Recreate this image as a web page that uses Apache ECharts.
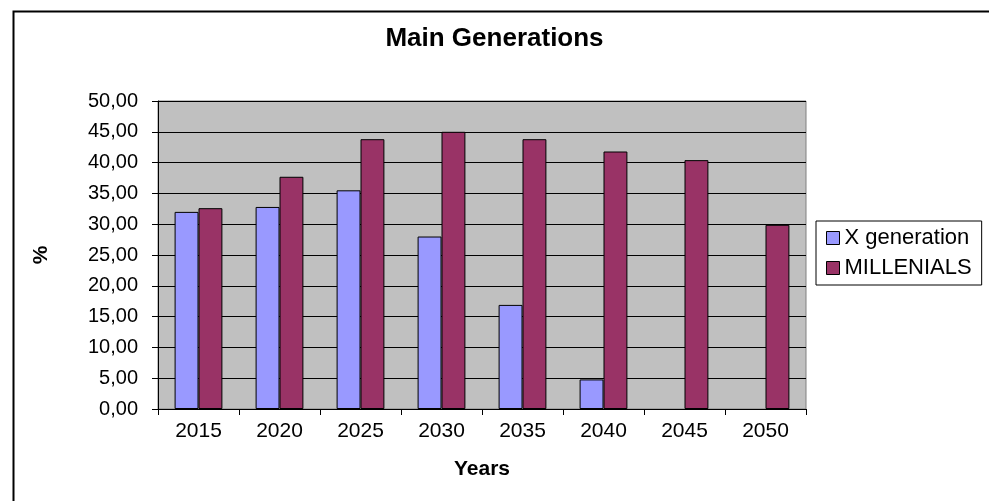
<!DOCTYPE html>
<html>
<head>
<meta charset="utf-8">
<script src="https://cdn.jsdelivr.net/npm/echarts@6/dist/echarts.min.js"></script>
<style>
  html, body { margin: 0; padding: 0; background: #fff; }
  #chart { width: 989px; height: 501px; }
</style>
</head>
<body>
<div id="chart"></div>
<script>
var years = ['2015', '2020', '2025', '2030', '2035', '2040', '2045', '2050'];
var xGeneration = [32.0, 32.8, 35.5, 28.0, 16.9, 4.8, null, null];
var millenials = [32.6, 37.7, 43.8, 45.0, 43.8, 41.8, 40.4, 29.9];

var font = 'Liberation Sans, Arial, sans-serif';

var chart = echarts.init(document.getElementById('chart'));

var option = {
    backgroundColor: '#fff',
    animation: false,
    title: {
        text: 'Main Generations',
        left: 'center',
        top: 21,
        textStyle: { fontFamily: font, fontSize: 26, fontWeight: 'bold', color: '#000' }
    },
    legend: {
        orient: 'vertical',
        left: 816,
        top: 221,
        padding: [6, 10, 6, 10],
        itemGap: 8,
        itemWidth: 13,
        itemHeight: 13,
        icon: 'rect',
        borderColor: '#000',
        borderWidth: 1,
        textStyle: { fontFamily: font, fontSize: 22, color: '#000' },
        itemStyle: { borderColor: '#000', borderWidth: 1 },
        data: ['X generation', 'MILLENIALS']
    },
    grid: {
        left: 158,
        right: 183,
        top: 101,
        bottom: 92,
        show: true,
        backgroundColor: '#c0c0c0',
        borderColor: '#808080',
        borderWidth: 1
    },
    xAxis: {
        type: 'category',
        data: years,
        name: 'Years',
        nameLocation: 'middle',
        nameGap: 50,
        nameTextStyle: { fontFamily: font, fontSize: 21, fontWeight: 'bold', color: '#000' },
        axisLine: { lineStyle: { color: '#000', width: 1 } },
        axisTick: { show: true, length: 6, lineStyle: { color: '#000' } },
        axisLabel: { fontFamily: font, fontSize: 21, color: '#000', margin: 12 }
    },
    yAxis: {
        type: 'value',
        min: 0,
        max: 50,
        interval: 5,
        name: '%',
        nameLocation: 'middle',
        nameGap: 106,
        nameRotate: 90,
        nameTextStyle: { fontFamily: font, fontSize: 21, fontWeight: 'bold', color: '#000' },
        axisLine: { show: true, lineStyle: { color: '#000', width: 1 } },
        axisTick: { show: true, length: 6, lineStyle: { color: '#000' } },
        axisLabel: {
            fontFamily: font, fontSize: 20, color: '#000', margin: 20,
            formatter: function (v) { return v.toFixed(2).replace('.', ','); }
        },
        splitLine: { show: true, lineStyle: { color: '#000', width: 1 } }
    },
    series: [
        {
            name: 'X generation',
            type: 'bar',
            barGap: '0%',
            barCategoryGap: '41%',
            itemStyle: { color: '#9999ff', borderColor: '#000', borderWidth: 1 },
            data: xGeneration
        },
        {
            name: 'MILLENIALS',
            type: 'bar',
            barGap: '0%',
            barCategoryGap: '41%',
            itemStyle: { color: '#993366', borderColor: '#000', borderWidth: 1 },
            data: millenials
        }
    ],
    graphic: [
        {
            type: 'rect',
            left: 11,
            top: 9,
            shape: { width: 1000, height: 600 },
            style: { fill: 'none', stroke: '#000', lineWidth: 2 },
            silent: true,
            z: 100
        }
    ]
};

chart.setOption(option);
</script>
</body>
</html>
